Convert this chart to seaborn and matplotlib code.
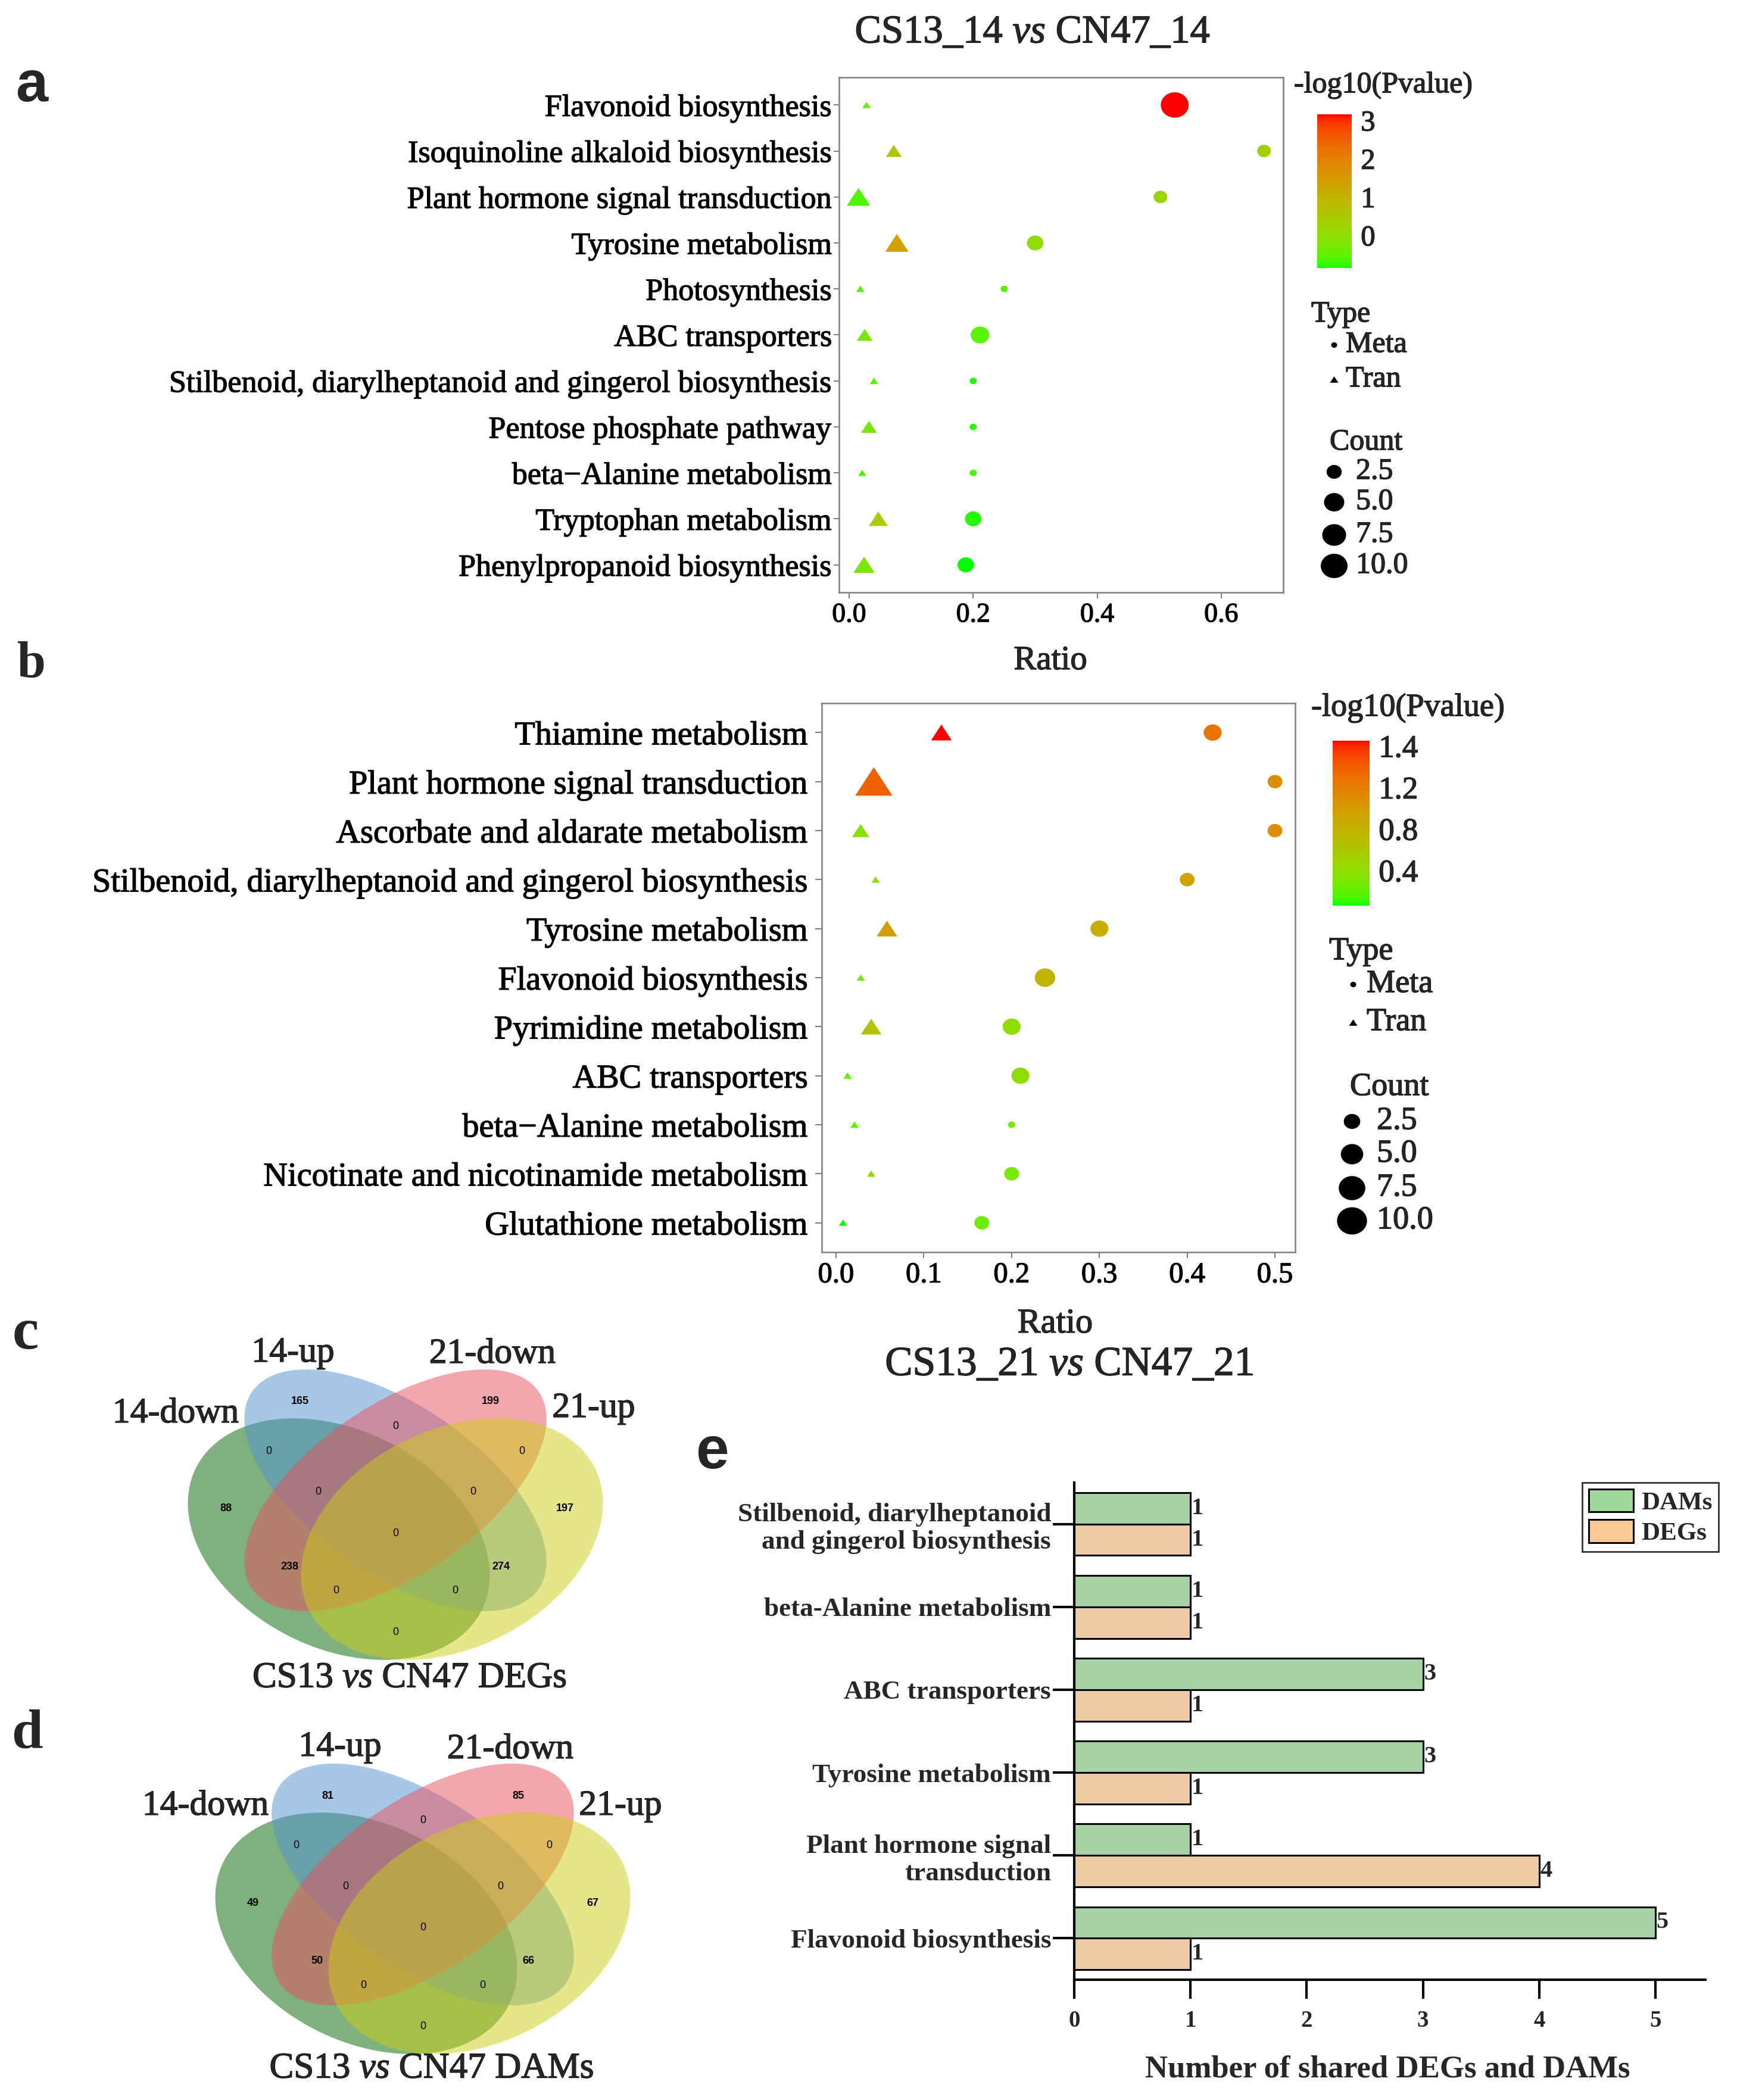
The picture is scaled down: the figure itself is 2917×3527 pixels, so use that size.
import numpy as np
import pandas as pd
import matplotlib
matplotlib.use("Agg")
import matplotlib.pyplot as plt
import matplotlib.patheffects as pe
import seaborn as sns
from matplotlib.path import Path
from matplotlib.patches import Ellipse, Patch
from matplotlib.colors import ListedColormap, Normalize
from matplotlib.cm import ScalarMappable

W, H, DPI = 2917, 3527, 100

# ---------------- panel a : CS13_14 vs CN47_14 ----------------
a_pathways = ["Flavonoid biosynthesis", "Isoquinoline alkaloid biosynthesis",
              "Plant hormone signal transduction", "Tyrosine metabolism", "Photosynthesis",
              "ABC transporters", "Stilbenoid, diarylheptanoid and gingerol biosynthesis",
              "Pentose phosphate pathway", "beta\u2212Alanine metabolism",
              "Tryptophan metabolism", "Phenylpropanoid biosynthesis"]
a_tran_ratio = [0.028, 0.072, 0.015, 0.077, 0.018, 0.025, 0.040, 0.032, 0.021, 0.047, 0.024]
a_tran_count = [1, 2, 5, 5, 1, 2, 1, 2, 1, 3, 4]
a_tran_logp = [-0.45, 0.59, -0.60, 1.36, -0.55, -0.25, -0.55, -0.25, -0.65, 0.39, -0.20]
a_meta_ratio = [0.525, 0.669, 0.502, 0.300, 0.250, 0.211, 0.200, 0.200, 0.200, 0.200, 0.188]
a_meta_count = [11, 2, 2, 3, 1, 4, 1, 1, 1, 3, 3]
a_meta_logp = [3.16, 0.35, 0.19, 0.00, -0.55, -0.53, -0.80, -0.80, -0.65, -0.80, -0.85]
a_xticks = [0.0, 0.2, 0.4, 0.6]
a_cbar_ticks = [0, 1, 2, 3]
a_cbar_labels = ["0", "1", "2", "3"]

# ---------------- panel b : CS13_21 vs CN47_21 ----------------
b_pathways = ["Thiamine metabolism", "Plant hormone signal transduction",
              "Ascorbate and aldarate metabolism",
              "Stilbenoid, diarylheptanoid and gingerol biosynthesis", "Tyrosine metabolism",
              "Flavonoid biosynthesis", "Pyrimidine metabolism", "ABC transporters",
              "beta\u2212Alanine metabolism", "Nicotinate and nicotinamide metabolism",
              "Glutathione metabolism"]
b_tran_ratio = [0.120, 0.043, 0.028, 0.045, 0.058, 0.028, 0.040, 0.013, 0.021, 0.040, 0.008]
b_tran_count = [3, 12, 2, 1, 3, 1, 3, 1, 1, 1, 1]
b_tran_logp = [1.65, 1.38, 0.36, 0.44, 0.95, 0.30, 0.65, 0.18, 0.17, 0.44, 0.06]
b_meta_ratio = [0.429, 0.500, 0.500, 0.400, 0.300, 0.238, 0.200, 0.210, 0.200, 0.200, 0.166]
b_meta_count = [3, 2, 2, 2, 3, 4, 3, 3, 1, 2, 2]
b_meta_logp = [1.27, 1.08, 1.08, 0.92, 0.84, 0.78, 0.40, 0.40, 0.30, 0.28, 0.25]
b_xticks = [0.0, 0.1, 0.2, 0.3, 0.4, 0.5]
b_cbar_ticks = [0.4, 0.8, 1.2, 1.6]
b_cbar_labels = ["0.4", "0.8", "1.2", "1.4"]

count_breaks = [2.5, 5.0, 7.5, 10.0]
type_levels = ["Meta", "Tran"]

# ---------------- panels c, d : Venn ----------------
venn_sets = ["14-down", "14-up", "21-down", "21-up"]
venn_colors = ["#006400", "#5191D1", "#E95159", "#CDCD15"]
region_keys = ["A", "B", "C", "D", "AB", "AC", "AD", "BC", "BD", "CD",
               "ABC", "ABD", "ACD", "BCD", "ABCD"]
deg_counts = [88, 165, 199, 197, 0, 238, 0, 0, 274, 0, 0, 0, 0, 0, 0]
dam_counts = [49, 81, 85, 67, 0, 50, 0, 0, 66, 0, 0, 0, 0, 0, 0]

# ---------------- panel e ----------------
e_pathways = ["Stilbenoid, diarylheptanoid\nand gingerol biosynthesis",
              "beta-Alanine metabolism", "ABC transporters", "Tyrosine metabolism",
              "Plant hormone signal\ntransduction", "Flavonoid biosynthesis"]
e_dams = [1, 1, 3, 3, 1, 5]
e_degs = [1, 1, 1, 1, 4, 1]
e_groups = ["DAMs", "DEGs"]
e_colors = ["#9FD99D", "#FBC996"]

# ================= style =================
sns.set_theme(style="white")
SERIF = ["Liberation Serif", "DejaVu Serif"]
SANS = ["Liberation Sans", "DejaVu Sans"]
NARROW = ["Liberation Sans Narrow", "Liberation Sans", "DejaVu Sans"]
plt.rcParams["font.family"] = SERIF
plt.rcParams["mathtext.fontset"] = "custom"
plt.rcParams["mathtext.rm"] = "Liberation Serif"
plt.rcParams["mathtext.it"] = "Liberation Serif:italic"
plt.rcParams["mathtext.bf"] = "Liberation Serif:bold"

HEAVY = [pe.withStroke(linewidth=0.9, foreground="black")]


def _lin(c):
    c = np.asarray(c, float) / 255.0
    return np.where(c <= 0.04045, c / 12.92, ((c + 0.055) / 1.055) ** 2.4)


_M = np.array([[0.4124564, 0.3575761, 0.1804375],
               [0.2126729, 0.7151522, 0.0721750],
               [0.0193339, 0.1191920, 0.9503041]])
_WP = np.array([0.95047, 1.0, 1.08883])


def rgb2lab(c):
    xyz = _M @ _lin(c) / _WP
    d = 6 / 29
    f = np.where(xyz > d ** 3, np.cbrt(xyz), xyz / (3 * d * d) + 4 / 29)
    return np.array([116 * f[1] - 16, 500 * (f[0] - f[1]), 200 * (f[1] - f[2])])


def lab2rgb(lab):
    L, a, b = lab
    fy = (L + 16) / 116
    f = np.array([fy + a / 500, fy, fy - b / 200])
    d = 6 / 29
    xyz = np.where(f > d, f ** 3, 3 * d * d * (f - 4 / 29)) * _WP
    lin = np.clip(np.linalg.solve(_M, xyz), 0, 1)
    return np.where(lin <= 0.0031308, 12.92 * lin, 1.055 * lin ** (1 / 2.4) - 0.055)


def lab_ramp(c0, c1, n=256):
    l0, l1 = rgb2lab(c0), rgb2lab(c1)
    return [np.clip(lab2rgb(l0 + (l1 - l0) * t), 0, 1) for t in np.linspace(0, 1, n)]


cmap = ListedColormap(lab_ramp((0, 255, 0), (255, 0, 0)))

fig = plt.figure(figsize=(W / DPI, H / DPI), dpi=DPI)
fig.patch.set_facecolor("white")


def rect(x0, y0, x1, y1):
    return [x0 / W, 1 - y1 / H, (x1 - x0) / W, (y1 - y0) / H]


th = np.linspace(0, 2 * np.pi, 73)
ELL = Path(np.c_[0.55 * np.cos(th), 0.5 * np.sin(th)])
TRI = Path([(0, 0.54), (-0.7, -0.53), (0.7, -0.53), (0, 0.54)])
TRI_FAC = 1.15


def dot_area(count, r1, K, fac=1.0):
    d = (r1 + K * np.sqrt(max(count - 1.0, 0.0))) * fac
    return (d * 72.0 / DPI) ** 2


GREY = "#7f7f7f"


def dot_panel(ax, pathways, tr, tc, tp, mr, mc, mp, r1, K, xlim, xticks,
              ysize, xsize, ylen, ypad):
    n = len(pathways)
    df = pd.DataFrame({"Pathway": pathways * 2, "Ratio": tr + mr, "Count": tc + mc,
                       "logP": tp + mp, "Type": ["Tran"] * n + ["Meta"] * n})
    norm = (df["logP"].min(), df["logP"].max())
    for typ, mk, fac in (("Tran", TRI, TRI_FAC), ("Meta", ELL, 1.0)):
        sub = df[df["Type"] == typ]
        sizes = {c: dot_area(c, r1, K, fac) for c in sorted(sub["Count"].unique())}
        sns.scatterplot(data=sub, x="Ratio", y="Pathway", hue="logP", hue_norm=norm,
                        palette=cmap, size="Count", sizes=sizes, marker=mk,
                        linewidth=0, edgecolor="none", legend=False, ax=ax, zorder=3)
    ax.set_xlim(*xlim)
    ax.set_ylim(n - 1 + 0.6, -0.6)
    ax.set_xticks(xticks)
    ax.set_xticklabels([f"{t:.1f}" for t in xticks])
    ax.set_xlabel("")
    ax.set_ylabel("")
    ax.grid(False)
    for sp in ax.spines.values():
        sp.set_color(GREY)
        sp.set_linewidth(1.8)
    ax.tick_params(axis="x", bottom=True, length=7, width=1.5, color=GREY,
                   labelsize=xsize, pad=5, labelcolor="black")
    ax.tick_params(axis="y", left=True, length=ylen, width=1.5, color=GREY,
                   labelsize=ysize, pad=ypad, labelcolor="black")
    for lbl in ax.get_yticklabels() + ax.get_xticklabels():
        lbl.set_path_effects(HEAVY)
    return norm


def colorbar(box, norm, ticks, labels, size):
    cax = fig.add_axes(rect(*box))
    sm = ScalarMappable(norm=Normalize(*norm), cmap=cmap)
    cb = fig.colorbar(sm, cax=cax, orientation="vertical")
    cb.outline.set_visible(False)
    cb.set_ticks(ticks)
    cb.set_ticklabels(labels)
    cax.tick_params(axis="y", direction="in", color="white", length=8.5, width=1.2,
                    left=True, right=True, labelsize=size, pad=11)
    for lbl in cax.get_yticklabels():
        lbl.set_path_effects(HEAVY)


# ---------------- panel a ----------------
ax_a = fig.add_axes(rect(1409, 130, 2155, 995))
norm_a = dot_panel(ax_a, a_pathways, a_tran_ratio, a_tran_count, a_tran_logp,
                   a_meta_ratio, a_meta_count, a_meta_logp, r1=12, K=11,
                   xlim=(-0.0163, 0.700), xticks=a_xticks, ysize=37.5, xsize=33,
                   ylen=6.5, ypad=2)
colorbar((2212, 192, 2270, 450), norm_a, a_cbar_ticks, a_cbar_labels, 35)

# ---------------- panel b ----------------
ax_b = fig.add_axes(rect(1380, 1181, 2175, 2103))
norm_b = dot_panel(ax_b, b_pathways, b_tran_ratio, b_tran_count, b_tran_logp,
                   b_meta_ratio, b_meta_count, b_meta_logp, r1=12, K=12.8,
                   xlim=(-0.0163, 0.523), xticks=b_xticks, ysize=40.5, xsize=35,
                   ylen=8, ypad=9)
colorbar((2238, 1244, 2300, 1521), norm_b, b_cbar_ticks, b_cbar_labels, 38)

# ---------------- panels c / d (Venn) ----------------
# (x, y, angle, semi-major, semi-minor) in venn units (x stretched on screen)
ell_geom = [(-76, -82, -45, 231, 170), (0, 0, -45, 256, 130),
            (0, 0, 45, 256, 130), (76, -82, 45, 231, 170)]
region_pos = {"B": (-128, 149), "C": (128, 149), "A": (-228, -31), "D": (228, -31),
              "BC": (0, 108), "AB": (-170, 66), "CD": (170, 66), "ABC": (-104, -3),
              "BCD": (104, -3), "ABCD": (0, -72), "AC": (-142, -128), "BD": (142, -128),
              "ACD": (-80, -169), "ABD": (80, -169), "AD": (0, -238)}
VS = 1.25  # horizontal stretch of the venn


def venn(cx, cy, counts):
    x0, x1 = cx - 514, cx + 516
    y0, y1 = cy - 313, cy + 357
    ax = fig.add_axes(rect(x0, y0, x1, y1))
    ax.set_xlim((x0 - cx) / VS, (x1 - cx) / VS)
    ax.set_ylim(cy - y1, cy - y0)
    ax.axis("off")
    for (ex, ey, ang, ea, eb), col in zip(ell_geom, venn_colors):
        ax.add_patch(Ellipse((ex, ey), 2 * ea, 2 * eb, angle=ang,
                             facecolor=col, alpha=0.5, edgecolor="none"))
    for key, v in zip(region_keys, counts):
        x, y = region_pos[key]
        ax.text(x, y, str(v), ha="center", va="center", fontsize=13,
                family=SANS, fontweight="bold" if v else "normal", color="black")
    return ax


venn(664, 2503, deg_counts)
venn(710, 3165, dam_counts)

# ---------------- panel e ----------------
ax_e = fig.add_axes(rect(1804, 2490, 2864, 3325))
df_e = pd.DataFrame({"Pathway": e_pathways * 2, "Number": e_dams + e_degs,
                     "Group": [e_groups[0]] * len(e_pathways) + [e_groups[1]] * len(e_pathways)})
sns.barplot(data=df_e, y="Pathway", x="Number", hue="Group", hue_order=e_groups,
            palette=e_colors, orient="h", width=0.76, edgecolor="black", linewidth=2.2,
            errorbar=None, legend=False, ax=ax_e)
ax_e.set_ylim(len(e_pathways) - 0.5, -0.5)
ax_e.set_xlim(0, 5.43)
ax_e.set_xticks(range(6))
ax_e.set_xlabel("")
ax_e.set_ylabel("")
ax_e.grid(False)
for s in ("top", "right"):
    ax_e.spines[s].set_visible(False)
for s in ("left", "bottom"):
    ax_e.spines[s].set_color("black")
    ax_e.spines[s].set_linewidth(3)
ax_e.tick_params(axis="y", left=True, length=26, width=3, color="black", pad=2,
                 labelsize=32.5)
ax_e.tick_params(axis="x", bottom=True, length=23, width=3, color="black", pad=14,
                 labelsize=28)
for lbl in ax_e.get_yticklabels() + ax_e.get_xticklabels():
    lbl.set_fontweight("bold")
for cont in ax_e.containers:
    ax_e.bar_label(cont, fmt="%d", padding=1, fontsize=29, fontweight="bold")
handles = [Patch(facecolor=c, edgecolor="black", linewidth=2.2, label=g)
           for g, c in zip(e_groups, e_colors)]
leg = ax_e.legend(handles=handles, loc="upper right", bbox_to_anchor=(2886 / W, 1 - 2490 / H),
                  bbox_transform=fig.transFigure, frameon=True, fancybox=False,
                  edgecolor="black", prop={"family": SERIF, "weight": "bold", "size": 31},
                  handlelength=1.75, handleheight=1.0, labelspacing=0.2, borderpad=0.25,
                  handletextpad=0.3, borderaxespad=0)
leg.get_frame().set_linewidth(2)

# ---------------- overlay for titles / legends / letters ----------------
ov = fig.add_axes([0, 0, 1, 1])
ov.set_xlim(0, W)
ov.set_ylim(H, 0)
ov.axis("off")


def T(x, y, s, size, ha="center", va="baseline", heavy=True, **kw):
    t = ov.text(x, y, s, fontsize=size, ha=ha, va=va, **kw)
    if heavy:
        t.set_path_effects(HEAVY)
    return t


# titles
T(1734, 72, r"CS13_14 $\mathit{vs}$ CN47_14", 48)
T(1796, 2310, r"CS13_21 $\mathit{vs}$ CN47_21", 50)
T(1764, 1124, "Ratio", 41)
T(1772, 2238, "Ratio", 42)
T(2330, 3488, "Number of shared DEGs and DAMs", 38, fontweight="bold", heavy=False)

# panel letters
T(53, 170, "a", 70, family=NARROW, fontweight="bold", heavy=False)
T(53, 1137, "b", 62, fontweight="bold", heavy=False)
T(43, 2265, "c", 72, fontweight="bold", heavy=False)
T(45, 2935, "d", 68, fontweight="bold", heavy=False)
T(1196, 2466, "e", 72, family=SANS, fontweight="bold", heavy=False)

# venn labels
for (x, y), s in zip([(295, 2389), (492, 2287), (827, 2289), (997, 2380)], venn_sets):
    T(x, y, s, 43)
T(688, 2834, r"CS13 $\mathit{vs}$ CN47 DEGs", 44)
for (x, y), s in zip([(345, 3048), (571, 2949), (857, 2953), (1042, 3048)], venn_sets):
    T(x, y, s, 43)
T(725, 3490, r"CS13 $\mathit{vs}$ CN47 DAMs", 44)


def dot_legend(cb_title_xy, type_title_xy, type_mk_x, type_txt_x, type_ys,
               count_title_xy, count_x, count_txt_x, count_ys, r1, K, size):
    T(cb_title_xy[0], cb_title_xy[1], "-log10(Pvalue)", size, ha="left", va="center")
    T(type_title_xy[0], type_title_xy[1], "Type", size, ha="left", va="center")
    for lev, y in zip(type_levels, type_ys):
        mk = ELL if lev == "Meta" else TRI
        d = 10 if lev == "Meta" else 14
        ov.scatter([type_mk_x], [y], s=(d * 0.72) ** 2, marker=mk, color="black",
                   linewidth=0)
        T(type_txt_x, y, lev, size, ha="left", va="center")
    T(count_title_xy[0], count_title_xy[1], "Count", size, ha="left", va="center")
    for c, y in zip(count_breaks, count_ys):
        ov.scatter([count_x], [y], s=dot_area(c, r1, K), marker=ELL, color="black",
                   linewidth=0)
        T(count_txt_x, y, f"{c:.1f}", size, ha="left", va="center")


dot_legend((2173, 143), (2202, 528), 2240, 2260, [579, 637],
           (2233, 743), 2240, 2277, [792, 843, 898, 950], 12, 11, 36)
dot_legend((2202, 1189), (2232, 1598), 2272, 2295, [1653, 1717],
           (2267, 1826), 2270, 2312, [1883, 1938, 1995, 2050], 12, 12.8, 39)

fig.savefig("out.png", dpi=DPI, facecolor="white")
